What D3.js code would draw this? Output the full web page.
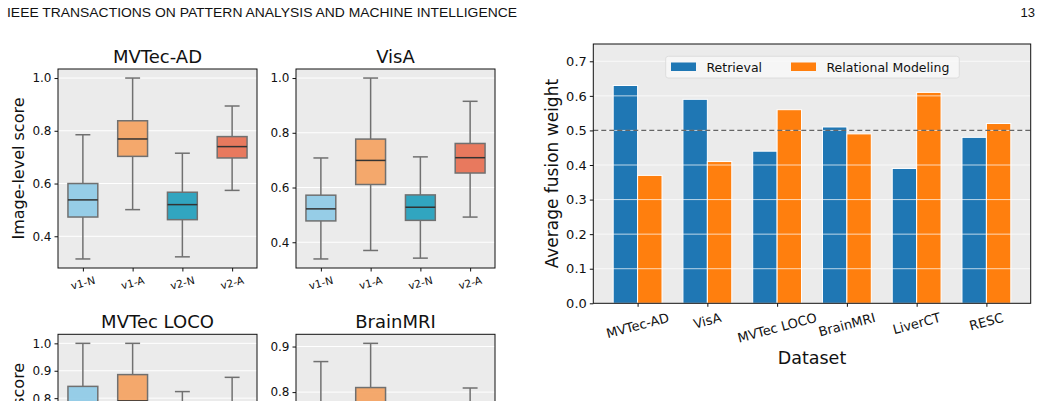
<html>
<head>
<meta charset="utf-8">
<script src="https://d3js.org/d3.v7.min.js"></script>
<style>
  body { margin:0; background:#fff; }
  text { font-family: "DejaVu Sans", sans-serif; fill:#111; }
</style>
</head>
<body>
<script>
// ---- data ----
var groups = ["v1-N", "v1-A", "v2-N", "v2-A"];
var boxColors = ["#8ecae6", "#f4a261", "#219ebc", "#e76f51"];
var panelTitles = ["MVTec-AD", "VisA", "MVTec LOCO", "BrainMRI"];
// each box: [low whisker, q1, median, q3, high whisker]
var mvtecAD = [[0.314,0.473,0.538,0.600,0.785],[0.501,0.703,0.769,0.838,1.0],[0.322,0.463,0.520,0.567,0.715],[0.574,0.697,0.740,0.778,0.894]];
var visa    = [[0.339,0.478,0.522,0.572,0.708],[0.370,0.611,0.699,0.777,1.0],[0.342,0.480,0.528,0.573,0.712],[0.492,0.653,0.709,0.761,0.915]];
var loco    = [[0.36,0.62,0.73,0.843,1.0],[0.45,0.70,0.79,0.886,1.0],[0.34,0.56,0.66,0.73,0.824],[0.50,0.68,0.73,0.76,0.876]];
var brain   = [[0.52,0.66,0.72,0.77,0.867],[0.55,0.70,0.75,0.810,0.907],[0.51,0.62,0.67,0.71,0.76],[0.56,0.68,0.72,0.76,0.809]];
var panelData = [mvtecAD, visa, loco, brain];
var panelTicks = [[0.4,0.6,0.8,1.0],[0.4,0.6,0.8,1.0],[0.4,0.5,0.6,0.7,0.8,0.9,1.0],[0.5,0.6,0.7,0.8,0.9]];

var datasets = ["MVTec-AD", "VisA", "MVTec LOCO", "BrainMRI", "LiverCT", "RESC"];
var retrieval = [0.63, 0.59, 0.44, 0.51, 0.39, 0.48];
var relational = [0.37, 0.41, 0.56, 0.49, 0.61, 0.52];
var barTicks = [0.0, 0.1, 0.2, 0.3, 0.4, 0.5, 0.6, 0.7];

var svg = d3.select("body").append("svg").attr("width", 1043).attr("height", 401);

// page header
svg.append("text").attr("x", 7).attr("y", 17).style("font-family", "Liberation Sans, Arial, sans-serif")
  .style("font-size", "13px").attr("textLength", 510).attr("lengthAdjust", "spacingAndGlyphs")
  .text("IEEE TRANSACTIONS ON PATTERN ANALYSIS AND MACHINE INTELLIGENCE");
svg.append("text").attr("x", 1035).attr("y", 17).attr("text-anchor", "end")
  .style("font-family", "Liberation Sans, Arial, sans-serif").style("font-size", "13px").text("13");

// rotated tick label helper (like matplotlib rotation=15, ha=center, va=top)
function rotLabel(g, x, top, txt, size) {
  var t = g.append("text").attr("text-anchor", "middle").attr("dominant-baseline", "central")
    .style("font-size", size + "px").text(txt);
  var w = t.node().getComputedTextLength();
  var a = 15 * Math.PI / 180;
  var h = w * Math.sin(a) + size * 1.1 * Math.cos(a);
  var cy = top + h / 2;
  t.attr("x", x).attr("y", cy).attr("transform", "rotate(-15," + x + "," + cy + ")");
}

// ---- box plot panels ----
var pw = 199, ph = 199;
var panelPos = [[58, 69], [296, 69], [58, 334.3], [296, 334.3]];

panelData.forEach(function(data, p) {
  var left = panelPos[p][0], top = panelPos[p][1];
  var g = svg.append("g").attr("transform", "translate(" + left + "," + top + ")");
  var lo = d3.min(data, function(d) { return d[0]; });
  var hi = d3.max(data, function(d) { return d[4]; });
  var pad = (hi - lo) * 0.05;
  var y = d3.scaleLinear().domain([lo - pad, hi + pad]).range([ph, 0]);
  var x = d3.scaleLinear().domain([0.5, 4.5]).range([0, pw]);
  var bw = x(0.6) - x(0);

  g.append("rect").attr("width", pw).attr("height", ph).attr("fill", "#ebebeb");
  g.selectAll(".grid").data(panelTicks[p]).enter().append("line")
    .attr("x1", 0).attr("x2", pw).attr("y1", function(d) { return y(d); }).attr("y2", function(d) { return y(d); })
    .attr("stroke", "#fff").attr("stroke-width", 1);

  data.forEach(function(d, i) {
    var cx = x(i + 1);
    var wc = "#707070";
    g.append("line").attr("x1", cx).attr("x2", cx).attr("y1", y(d[0])).attr("y2", y(d[1])).attr("stroke", wc).attr("stroke-width", 1.5);
    g.append("line").attr("x1", cx).attr("x2", cx).attr("y1", y(d[3])).attr("y2", y(d[4])).attr("stroke", wc).attr("stroke-width", 1.5);
    g.append("line").attr("x1", cx - bw / 4).attr("x2", cx + bw / 4).attr("y1", y(d[0])).attr("y2", y(d[0])).attr("stroke", wc).attr("stroke-width", 1.5);
    g.append("line").attr("x1", cx - bw / 4).attr("x2", cx + bw / 4).attr("y1", y(d[4])).attr("y2", y(d[4])).attr("stroke", wc).attr("stroke-width", 1.5);
    g.append("rect").attr("x", cx - bw / 2).attr("width", bw).attr("y", y(d[3])).attr("height", y(d[1]) - y(d[3]))
      .attr("fill", boxColors[i]).attr("fill-opacity", 0.92).attr("stroke", wc).attr("stroke-width", 1.5);
    g.append("line").attr("x1", cx - bw / 2).attr("x2", cx + bw / 2).attr("y1", y(d[2])).attr("y2", y(d[2])).attr("stroke", "#333").attr("stroke-width", 1.5);
  });

  g.append("rect").attr("width", pw).attr("height", ph).attr("fill", "none").attr("stroke", "#111").attr("stroke-width", 1);

  var ya = g.append("g").call(d3.axisLeft(y).tickValues(panelTicks[p]).tickFormat(d3.format(".1f")).tickSize(3.5).tickPadding(3));
  ya.select(".domain").remove();
  ya.selectAll("text").style("font-size", "12px").attr("fill", "#111");
  ya.selectAll("line").attr("stroke", "#111");

  var xa = g.append("g").attr("transform", "translate(0," + ph + ")")
    .call(d3.axisBottom(x).tickValues([1, 2, 3, 4]).tickFormat("").tickSize(3.5));
  xa.select(".domain").remove();
  xa.selectAll("line").attr("stroke", "#111");
  groups.forEach(function(name, i) { rotLabel(g, x(i + 1), ph + 6, name, 10.5); });

  g.append("text").attr("x", pw / 2).attr("y", -6).attr("text-anchor", "middle").style("font-size", "18px").text(panelTitles[p]);
  if (left < 100) {
    g.append("text").attr("transform", "translate(" + (18 - left) + "," + (ph / 2) + ") rotate(-90)")
      .attr("text-anchor", "middle").attr("dominant-baseline", "central").style("font-size", "16px").text("Image-level score");
  }
});

// ---- bar chart ----
var bl = 593.3, br = 1030.7, bt = 44, bb = 303.3;
var bg = svg.append("g").attr("transform", "translate(" + bl + "," + bt + ")");
var bW = br - bl, bH = bb - bt;
var xb = d3.scaleLinear().domain([-0.635, 5.635]).range([0, bW]);
var yb = d3.scaleLinear().domain([0, 0.75]).range([bH, 0]);
var barW = 0.35;

bg.append("rect").attr("width", bW).attr("height", bH).attr("fill", "#ebebeb");

bg.selectAll(".r").data(retrieval).enter().append("rect")
  .attr("x", function(d, i) { return xb(i - barW); }).attr("width", xb(barW) - xb(0))
  .attr("y", function(d) { return yb(d); }).attr("height", function(d) { return yb(0) - yb(d); })
  .attr("fill", "#1f77b4").attr("stroke", "#fff").attr("stroke-width", 1);
bg.selectAll(".m").data(relational).enter().append("rect")
  .attr("x", function(d, i) { return xb(i); }).attr("width", xb(barW) - xb(0))
  .attr("y", function(d) { return yb(d); }).attr("height", function(d) { return yb(0) - yb(d); })
  .attr("fill", "#ff7f0e").attr("stroke", "#fff").attr("stroke-width", 1);

bg.selectAll(".grid").data(barTicks.slice(1)).enter().append("line")
  .attr("x1", 0).attr("x2", bW).attr("y1", function(d) { return yb(d); }).attr("y2", function(d) { return yb(d); })
  .attr("stroke", "#fff").attr("stroke-opacity", 0.7).attr("stroke-width", 1);

bg.append("line").attr("x1", 0).attr("x2", bW).attr("y1", yb(0.5)).attr("y2", yb(0.5))
  .attr("stroke", "#666").attr("stroke-width", 1.2).attr("stroke-dasharray", "5,3");

bg.append("rect").attr("width", bW).attr("height", bH).attr("fill", "none").attr("stroke", "#111").attr("stroke-width", 1);

var yba = bg.append("g").call(d3.axisLeft(yb).tickValues(barTicks).tickFormat(d3.format(".1f")).tickSize(3.5).tickPadding(3));
yba.select(".domain").remove();
yba.selectAll("text").style("font-size", "13px").attr("fill", "#111");
yba.selectAll("line").attr("stroke", "#111");

var xba = bg.append("g").attr("transform", "translate(0," + bH + ")")
  .call(d3.axisBottom(xb).tickValues(d3.range(datasets.length)).tickFormat("").tickSize(3.5));
xba.select(".domain").remove();
xba.selectAll("line").attr("stroke", "#111");
datasets.forEach(function(name, i) { rotLabel(bg, xb(i), bH + 7, name, 13); });

bg.append("text").attr("x", bW / 2).attr("y", bH + 55).attr("text-anchor", "middle").attr("dominant-baseline", "central")
  .style("font-size", "17.5px").text("Dataset");
bg.append("text").attr("transform", "translate(" + (551.5 - bl) + "," + (bH / 2) + ") rotate(-90)")
  .attr("text-anchor", "middle").attr("dominant-baseline", "central").style("font-size", "17px").text("Average fusion weight");

// legend
var lg = svg.append("g");
lg.append("rect").attr("x", 665.7).attr("y", 56.3).attr("width", 293.6).attr("height", 21.7).attr("rx", 2.5)
  .attr("fill", "#f8f8f8").attr("fill-opacity", 0.85).attr("stroke", "#d8d8d8").attr("stroke-width", 0.8);
var legendItems = [["Retrieval", "#1f77b4", 671], ["Relational Modeling", "#ff7f0e", 791]];
legendItems.forEach(function(it) {
  lg.append("rect").attr("x", it[2]).attr("y", 62.5).attr("width", 25).attr("height", 8.5).attr("fill", it[1]);
  lg.append("text").attr("x", it[2] + 35.5).attr("y", 67).attr("dominant-baseline", "central").style("font-size", "12.5px").text(it[0]);
});
</script>
</body>
</html>
